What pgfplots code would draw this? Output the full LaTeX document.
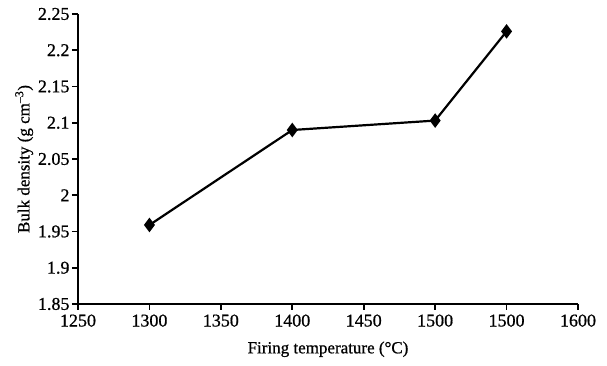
\documentclass[border=0pt]{standalone}
\usepackage{fontspec}
\setmainfont{Liberation Serif}[FakeBold=0.8]
\usepackage{pgfplots}
\pgfplotsset{compat=1.18}
\begin{document}
\begin{tikzpicture}
\begin{axis}[
  scale only axis,
  width=500pt, height=290pt,
  xmin=1250, xmax=1600, ymin=1.85, ymax=2.25,
  axis x line*=bottom, axis y line*=left,
  axis line style={line width=2.2pt},
  xtick={1250,1300,1350,1400,1450,1500,1550,1600},
  xticklabels={1250,1300,1350,1400,1450,1500,1500,1600},
  ytick={1.85,1.9,1.95,2,2.05,2.1,2.15,2.2,2.25},
  yticklabels={1.85,1.9,1.95,2,2.05,2.1,2.15,2.2,2.25},
  tick align=outside, major tick length=6pt,
  tick style={line width=1.6pt, black},
  ticklabel style={font=\fontsize{18}{21}\selectfont},
  xticklabel style={yshift=-1pt},
  yticklabel style={xshift=1pt},
  label style={font=\fontsize{17}{20}\selectfont},
  xlabel={Firing temperature (°C)},
  ylabel={Bulk density (g cm\textsuperscript{--3})},
  xlabel style={yshift=-8pt},
  ylabel style={yshift=-2pt},
  clip=false,
]
\addplot[black, line width=2.2pt, mark=diamond*, mark size=5.5pt, mark options={solid, fill=black}]
  coordinates {(1300,1.959) (1400,2.090) (1500,2.103) (1550,2.226)};
\coordinate (BL) at (rel axis cs:0,0);
\coordinate (TR) at (rel axis cs:1,1);
\end{axis}
\useasboundingbox ([xshift=-78pt,yshift=-62pt]BL) rectangle ([xshift=29pt,yshift=14pt]TR);
\end{tikzpicture}
\end{document}
